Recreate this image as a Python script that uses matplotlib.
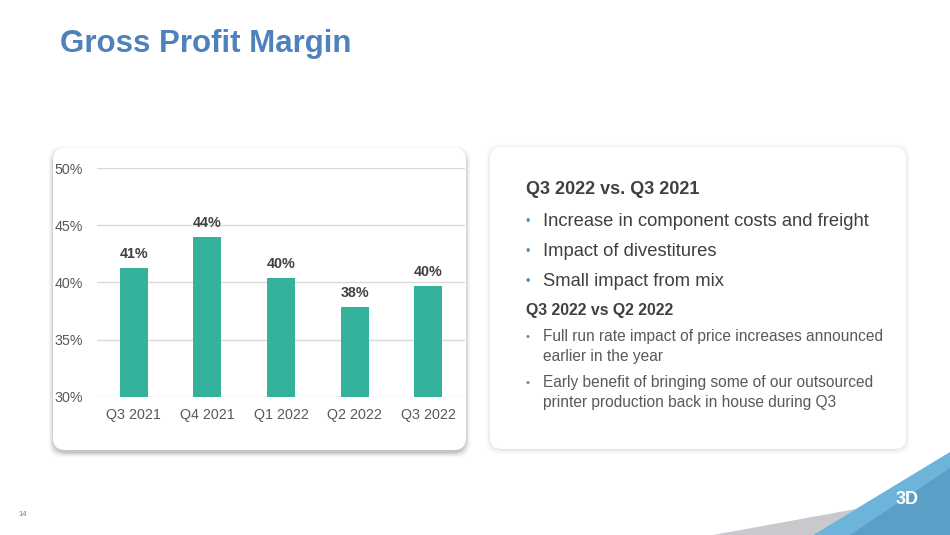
import matplotlib
matplotlib.use("Agg")
import matplotlib.pyplot as plt
from matplotlib.patches import FancyBboxPatch, Polygon

plt.rcParams['font.family'] = ['Liberation Sans', 'DejaVu Sans']

# data
quarters = ['Q3 2021', 'Q4 2021', 'Q1 2022', 'Q2 2022', 'Q3 2022']
margin = [41.3, 44.0, 40.4, 37.9, 39.7]
margin_labels = ['41%', '44%', '40%', '38%', '40%']
y_ticks = [30, 35, 40, 45, 50]

head1 = 'Q3 2022 vs. Q3 2021'
bullets1 = ['Increase in component costs and freight',
            'Impact of divestitures',
            'Small impact from mix']
head2 = 'Q3 2022 vs Q2 2022'
bullets2 = [['Full run rate impact of price increases announced', 'earlier in the year'],
            ['Early benefit of bringing some of our outsourced', 'printer production back in house during Q3']]

fig = plt.figure(figsize=(9.5, 5.35), dpi=100)

# background layer in pixel units
bg = fig.add_axes([0, 0, 1, 1])
bg.set_xlim(0, 950)
bg.set_ylim(535, 0)
bg.axis('off')


def panel(x0, y0, x1, y1, dy=2, strong=0.05):
    # soft shadow made of stacked boxes
    for i in range(6, 0, -1):
        sh = FancyBboxPatch((x0 - i + 1, y0 - i + 1 + dy), (x1 - x0) + 2 * i - 2, (y1 - y0) + 2 * i - 2,
                            boxstyle="round,pad=0,rounding_size=14",
                            fc='black', ec='none', alpha=strong * (7 - i) / 6)
        bg.add_patch(sh)
    box = FancyBboxPatch((x0, y0), x1 - x0, y1 - y0,
                         boxstyle="round,pad=0,rounding_size=12",
                         fc='white', ec='none')
    bg.add_patch(box)


panel(53, 148, 466, 450, dy=3, strong=0.07)
panel(490, 147, 906, 449, dy=1, strong=0.03)

# corner decoration
bg.add_patch(Polygon([(713, 535), (856, 509), (813, 535)], closed=True, fc='#c9c9cd', ec='none'))
bg.add_patch(Polygon([(813, 535), (950, 452), (950, 535)], closed=True, fc='#6db4da', ec='none'))
bg.add_patch(Polygon([(850, 535), (950, 468), (950, 535)], closed=True, fc='#5a9fc6', ec='none'))
bg.text(907, 499, '3D', color='white', fontsize=13, fontweight='bold', ha='center', va='center')

# title and page number
bg.text(60, 44, 'Gross Profit Margin', color='#4f81bd', fontsize=22.5, fontweight='bold',
        ha='left', va='center')
bg.text(18, 515, '14', color='#7f7f7f', fontsize=5.5, ha='left', va='center')

# right panel text
bg.text(526, 190, head1, color='#404040', fontsize=13, fontweight='bold', va='center')
ys = [222, 252, 282]
for y, t in zip(ys, bullets1):
    bg.text(528, y, '•', color='#4a90b8', fontsize=9, va='center', ha='center')
    bg.text(543, y, t, color='#404040', fontsize=13.2, va='center')
bg.text(526, 310, head2, color='#404040', fontsize=11.4, fontweight='bold', va='center')
ys2 = [337, 383]
for y, lines in zip(ys2, bullets2):
    bg.text(528, y, '•', color='#4a90b8', fontsize=8, va='center', ha='center')
    for k, t in enumerate(lines):
        bg.text(543, y + 19.5 * k, t, color='#595959', fontsize=11.2, va='center')

# bar chart
ax = fig.add_axes([97 / 950, 1 - 397 / 535, (465 - 97) / 950, (397 - 168) / 535])
ax.patch.set_alpha(0)
x = range(len(quarters))
bars = ax.bar(x, margin, width=0.38, color='#34b29c', bottom=0, zorder=3)
ax.set_ylim(30, 50)
ax.set_xlim(-0.5, 4.5)
ax.set_yticks(y_ticks)
ax.set_yticklabels([f'{v}%' for v in y_ticks])
ax.set_xticks(list(x))
ax.set_xticklabels(quarters)
ax.grid(axis='y', color='#d9d9d9', linewidth=1, zorder=0)
for s in ax.spines.values():
    s.set_visible(False)
ax.tick_params(length=0, colors='#595959', labelsize=10.3)
ax.tick_params(axis='y', pad=10)
ax.tick_params(axis='x', pad=8)
for xi, v, lab in zip(x, margin, margin_labels):
    ax.annotate(lab, (xi, v), xytext=(0, 5), textcoords='offset points',
                ha='center', va='bottom', fontsize=10.3, fontweight='bold', color='#404040')

fig.savefig('out.png', dpi=100)
